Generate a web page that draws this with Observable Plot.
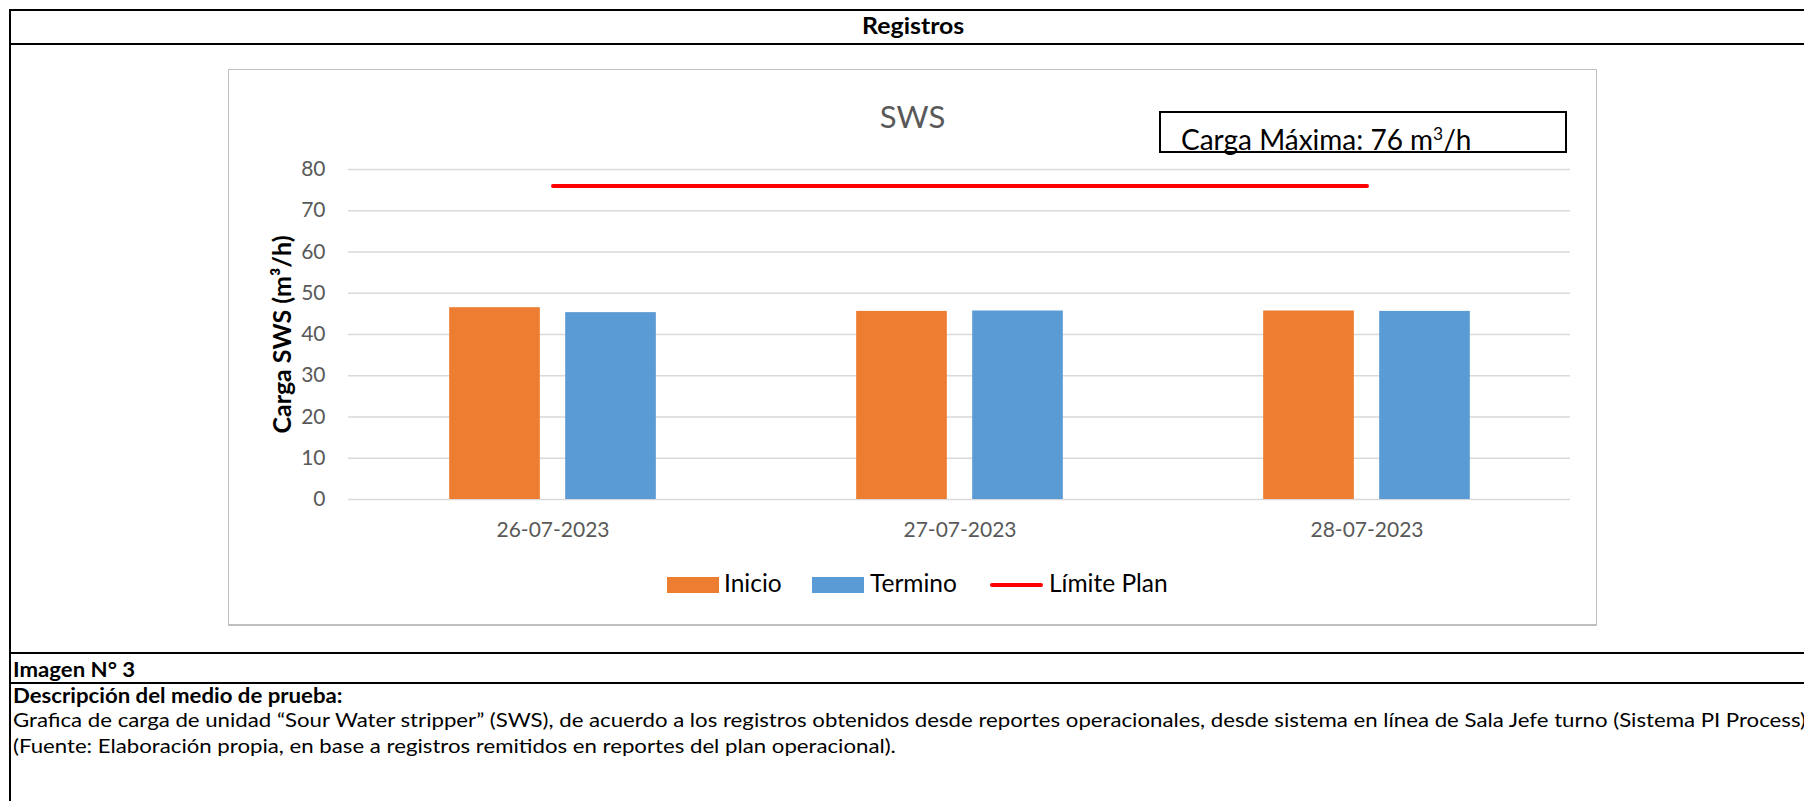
<!DOCTYPE html>
<html>
<head>
<meta charset="utf-8">
<script src="https://cdn.jsdelivr.net/npm/d3@7"></script>
<script src="https://cdn.jsdelivr.net/npm/@observablehq/plot@0.6"></script>
<style>
  html, body { margin: 0; padding: 0; background: #fff; }
  body { width: 1804px; height: 801px; position: relative; overflow: hidden; font-family: Lato, "Open Sans", sans-serif; color: #000; }
  .abs { position: absolute; white-space: nowrap; line-height: 1; }
  .doc { transform-origin: 0 0; transform: scaleX(1.11); font-size: 20px; }
  .hline { position: absolute; left: 9px; width: 1795px; background: #000; }
  .vline { position: absolute; top: 9px; width: 2px; background: #000; }
  #chartbox { position: absolute; left: 228px; top: 69px; width: 1367px; height: 554px; border: 1px solid #bfbfbf; border-bottom: 2px solid #bfbfbf; background: #fff; }
  #plot { position: absolute; left: 228px; top: 140px; }
  .sw { position: absolute; }
</style>
</head>
<body>
<div class="hline" style="top:9px;height:2px"></div>
<div class="vline" style="left:9px;height:792px"></div>
<div class="abs" style="left:813px;width:200px;top:15px;text-align:center">
  <span style="display:inline-block;font-size:22px;font-weight:700;transform:scaleX(1.13)">Registros</span>
</div>
<div class="hline" style="top:43px;height:2px"></div>

<div id="chartbox"></div>
<div class="abs" style="left:228px;width:1369px;text-align:center;top:101px;font-size:31px;color:#595959">SWS</div>
<div style="position:absolute;left:1159px;top:111px;width:404px;height:38px;border:2px solid #000"></div>
<div class="abs" style="left:1181px;top:125px;font-size:28px">Carga Máxima: 76 m<sup style="font-size:0.62em;vertical-align:0.55em;line-height:0">3</sup>/h</div>
<div id="plot"></div>
<div id="legend"></div>

<div class="hline" style="top:652px;height:2px"></div>
<div class="abs doc" style="left:13px;top:659px;font-weight:700">Imagen N° 3</div>
<div class="hline" style="top:682px;height:2px"></div>
<div class="abs doc" style="left:13px;top:685px;font-weight:700">Descripción del medio de prueba:</div>
<div class="abs doc" style="left:13px;top:709px">Grafica de carga de unidad “Sour Water stripper” (SWS), de acuerdo a los registros obtenidos desde reportes operacionales, desde sistema en línea de Sala Jefe turno (Sistema PI Process)</div>
<div class="abs doc" style="left:13px;top:735px">(Fuente: Elaboración propia, en base a registros remitidos en reportes del plan operacional).</div>

<script>
// ---- data ----
const dates = ["26-07-2023", "27-07-2023", "28-07-2023"];
const inicio = [46.5, 45.6, 45.7];
const termino = [45.3, 45.7, 45.6];
const limitePlan = [76, 76, 76];
const seriesNames = ["Inicio", "Termino", "Límite Plan"];
const seriesColors = ["#ED7D31", "#5B9BD5", "#FF0000"];
const yTicks = [0, 10, 20, 30, 40, 50, 60, 70, 80];
const yLabel = "Carga SWS (m³/h)";

const inicioRows = dates.map((d, i) => ({date: d, value: inicio[i]}));
const terminoRows = dates.map((d, i) => ({date: d, value: termino[i]}));
const limiteRows = dates.map((d, i) => ({date: d, value: limitePlan[i]}));

const W = 1369, H = 420;
const mL = 120, mR = 27, mT = 29, mB = 61;
const band = (W - mL - mR) / dates.length;
const barW = 91, gap = 25, outer = (band - 2 * barW - gap) / 2;

const chart = Plot.plot({
  width: W,
  height: H,
  marginLeft: mL,
  marginRight: mR,
  marginTop: mT,
  marginBottom: mB,
  style: {fontFamily: "Lato, sans-serif", background: "transparent", overflow: "visible"},
  x: {type: "band", domain: dates, padding: 0, label: null},
  y: {domain: [0, 80], label: null},
  marks: [
    Plot.gridY(yTicks, {stroke: "#d9d9d9", strokeOpacity: 1, strokeWidth: 1.6}),
    Plot.barY(inicioRows, {x: "date", y: "value", fill: seriesColors[0], insetLeft: outer, insetRight: band - outer - barW}),
    Plot.barY(terminoRows, {x: "date", y: "value", fill: seriesColors[1], insetLeft: outer + barW + gap, insetRight: outer}),
    Plot.lineY(limiteRows, {x: "date", y: "value", stroke: seriesColors[2], strokeWidth: 4, strokeLinecap: "round"}),
    Plot.axisY(yTicks, {tickSize: 0, tickPadding: 23, fontSize: 21, color: "#595959", label: null}),
    Plot.axisX({tickSize: 0, tickPadding: 23, fontSize: 21, color: "#595959", label: null}),
    Plot.text([yLabel], {frameAnchor: "left", textAnchor: "middle", dx: -66, rotate: -90, fontSize: 25, fontWeight: 700, fill: "#000"})
  ]
});
document.getElementById("plot").appendChild(chart);

// ---- legend ----
const legend = document.getElementById("legend");
const legendItems = [
  {kind: "rect", sx: 667, tx: 724},
  {kind: "rect", sx: 812, tx: 870},
  {kind: "line", sx: 990, tx: 1049}
];
legendItems.forEach((it, i) => {
  const sw = document.createElement("div");
  sw.className = "sw";
  if (it.kind === "rect") {
    sw.style.cssText = `left:${it.sx}px;top:577px;width:52px;height:16px;background:${seriesColors[i]}`;
  } else {
    sw.style.cssText = `left:${it.sx}px;top:583px;width:53px;height:4px;border-radius:2px;background:${seriesColors[i]}`;
  }
  legend.appendChild(sw);
  const t = document.createElement("div");
  t.className = "abs";
  t.style.cssText = `left:${it.tx}px;top:571px;font-size:24.5px;color:#000`;
  t.textContent = seriesNames[i];
  legend.appendChild(t);
});
</script>
</body>
</html>
